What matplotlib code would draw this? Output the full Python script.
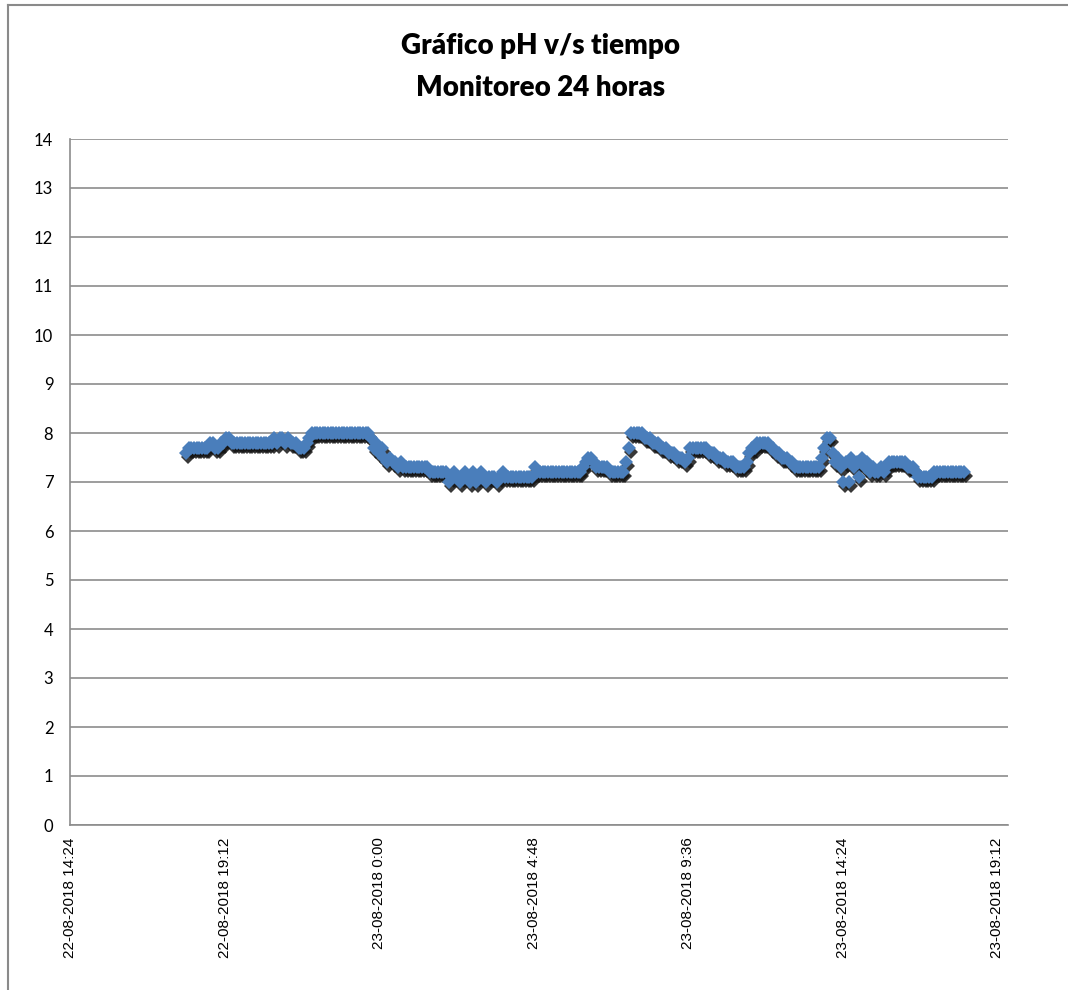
import pandas as pd
import matplotlib
matplotlib.use('Agg')
import matplotlib.pyplot as plt
import matplotlib.transforms as mtransforms
from matplotlib.lines import Line2D

# pH readings every 5 minutes, from 22-08-2018 18:00 to 23-08-2018 18:10 (one row per hour)
ph = [
    7.6, 7.7, 7.7, 7.7, 7.7, 7.7, 7.7, 7.7, 7.7, 7.8, 7.8, 7.7,   # 18h
    7.7, 7.8, 7.8, 7.9, 7.9, 7.8, 7.8, 7.8, 7.8, 7.8, 7.8, 7.8,   # 19h
    7.8, 7.8, 7.8, 7.8, 7.8, 7.8, 7.8, 7.8, 7.8, 7.9, 7.8, 7.9,   # 20h
    7.9, 7.8, 7.9, 7.8, 7.8, 7.8, 7.7, 7.7, 7.7, 7.8, 7.9, 8.0,   # 21h
    8.0, 8.0, 8.0, 8.0, 8.0, 8.0, 8.0, 8.0, 8.0, 8.0, 8.0, 8.0,   # 22h
    8.0, 8.0, 8.0, 8.0, 8.0, 8.0, 8.0, 8.0, 8.0, 7.9, 7.7, 7.8,   # 23h
    7.6, 7.7, 7.5, 7.4, 7.5, 7.4, 7.4, 7.3, 7.4, 7.3, 7.3, 7.3,   # 0h
    7.3, 7.3, 7.3, 7.3, 7.3, 7.3, 7.3, 7.2, 7.2, 7.2, 7.2, 7.2,   # 1h
    7.2, 7.2, 7.0, 7.1, 7.2, 7.1, 7.0, 7.1, 7.2, 7.1, 7.0, 7.2,   # 2h
    7.0, 7.1, 7.2, 7.1, 7.0, 7.1, 7.1, 7.1, 7.0, 7.1, 7.2, 7.1,   # 3h
    7.1, 7.1, 7.1, 7.1, 7.1, 7.1, 7.1, 7.1, 7.1, 7.1, 7.3, 7.2,   # 4h
    7.2, 7.2, 7.2, 7.2, 7.2, 7.2, 7.2, 7.2, 7.2, 7.2, 7.2, 7.2,   # 5h
    7.2, 7.2, 7.2, 7.2, 7.3, 7.4, 7.5, 7.5, 7.4, 7.3, 7.3, 7.3,   # 6h
    7.3, 7.3, 7.2, 7.2, 7.2, 7.2, 7.2, 7.2, 7.4, 7.7, 8.0, 8.0,   # 7h
    8.0, 8.0, 8.0, 7.9, 7.9, 7.9, 7.8, 7.8, 7.8, 7.7, 7.7, 7.7,   # 8h
    7.6, 7.6, 7.6, 7.5, 7.5, 7.5, 7.4, 7.5, 7.7, 7.7, 7.7, 7.7,   # 9h
    7.7, 7.7, 7.7, 7.6, 7.6, 7.6, 7.5, 7.5, 7.5, 7.4, 7.4, 7.4,   # 10h
    7.4, 7.3, 7.3, 7.3, 7.3, 7.4, 7.6, 7.7, 7.7, 7.8, 7.8, 7.8,   # 11h
    7.8, 7.8, 7.7, 7.7, 7.6, 7.6, 7.5, 7.5, 7.5, 7.4, 7.4, 7.3,   # 12h
    7.3, 7.3, 7.3, 7.3, 7.3, 7.3, 7.3, 7.3, 7.3, 7.5, 7.7, 7.9,   # 13h
    7.9, 7.6, 7.4, 7.5, 7.3, 7.0, 7.4, 7.0, 7.5, 7.3, 7.4, 7.1,   # 14h
    7.5, 7.3, 7.4, 7.2, 7.3, 7.2, 7.2, 7.3, 7.2, 7.3, 7.4, 7.4,   # 15h
    7.4, 7.4, 7.4, 7.4, 7.4, 7.3, 7.3, 7.3, 7.2, 7.1, 7.1, 7.1,   # 16h
    7.1, 7.1, 7.1, 7.2, 7.2, 7.2, 7.2, 7.2, 7.2, 7.2, 7.2, 7.2,   # 17h
    7.2, 7.2, 7.2,                                                # 18h
]
times = pd.date_range('2018-08-22 18:00', periods=len(ph), freq='5min')

tick_times = pd.date_range('2018-08-22 14:24', '2018-08-23 19:12', freq='288min')
tick_labels = ['22-08-2018 14:24', '22-08-2018 19:12', '23-08-2018 0:00',
               '23-08-2018 4:48', '23-08-2018 9:36', '23-08-2018 14:24',
               '23-08-2018 19:12']
x_end = pd.Timestamp('2018-08-23 19:32')
title_lines = ['Gráfico pH v/s tiempo', 'Monitoreo 24 horas']

narrow = ['Lato', 'DejaVu Sans']
plt.rcParams['font.family'] = ['Liberation Sans', 'DejaVu Sans']

fig = plt.figure(figsize=(10.68, 9.9), dpi=100)
ax = fig.add_axes([70 / 1068, 165 / 990, 938 / 1068, 686 / 990])

# shadow under the markers, like the Excel series effect
shadow = mtransforms.offset_copy(ax.transData, fig=fig, x=2, y=-4, units='dots')
ax.plot(times, ph, linestyle='none', marker='D', markersize=7.5,
        color='#151515', alpha=0.85, markeredgewidth=0, transform=shadow, zorder=2)
ax.plot(times, ph, linestyle='none', marker='D', markersize=7.5,
        color='#4a7ebb', markeredgewidth=0, zorder=3)

ax.set_xlim(tick_times[0], x_end)
ax.set_ylim(0, 14)
ax.set_yticks(range(0, 15))
ax.set_xticks(tick_times)
ax.set_xticklabels(tick_labels, rotation=90, fontsize=11)
for lab in ax.get_yticklabels():
    lab.set_family(narrow)
    lab.set_fontsize(12)
ax.tick_params(axis='both', length=0, colors='#000000')
ax.tick_params(axis='y', pad=12)
ax.tick_params(axis='x', pad=9)

ax.grid(axis='y', color='#8c8c8c', linewidth=1.2)
ax.set_axisbelow(True)
for side in ['top', 'right']:
    ax.spines[side].set_visible(False)
for side in ['left', 'bottom']:
    ax.spines[side].set_color('#8c8c8c')
    ax.spines[side].set_linewidth(1.2)

fig.text(0.506, 1 - 46 / 990, title_lines[0], ha='center', va='center',
         fontsize=20, fontweight='heavy', family=narrow)
fig.text(0.506, 1 - 88 / 990, title_lines[1], ha='center', va='center',
         fontsize=20, fontweight='heavy', family=narrow)

# chart area border (cut off at the right and bottom of the picture)
fig.add_artist(Line2D([7.5 / 1068, 7.5 / 1068], [0, 1 - 4.5 / 990],
                      color='#8a8a8a', linewidth=1.5, transform=fig.transFigure))
fig.add_artist(Line2D([7.5 / 1068, 1], [1 - 4.5 / 990, 1 - 4.5 / 990],
                      color='#8a8a8a', linewidth=1.5, transform=fig.transFigure))

fig.savefig('out.png', dpi=100)
